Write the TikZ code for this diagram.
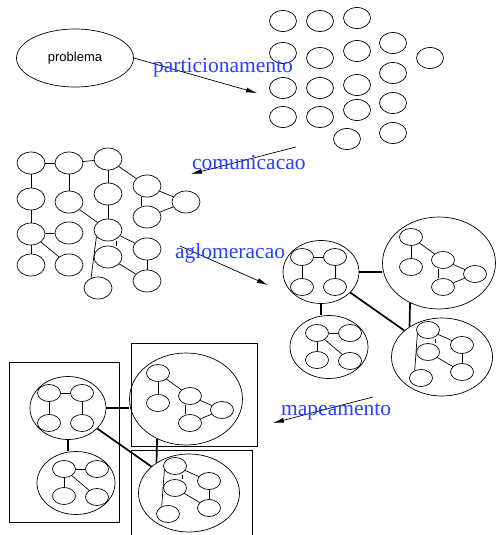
\documentclass[tikz,border=0pt]{standalone}
\usepackage{fontspec}
\setmainfont{Liberation Serif}
\newfontfamily\helvfont{Liberation Sans}
\usetikzlibrary{shapes.geometric,arrows.meta}

\definecolor{azulrotulo}{rgb}{0.15,0.25,1}

\tikzset{
  tarefa/.style={ellipse,draw,line width=0.7pt,inner sep=0pt,minimum width=27pt,minimum height=21pt},
  vert/.style={tarefa,minimum width=28pt,minimum height=22pt},
  sub/.style={tarefa,minimum width=23pt,minimum height=17pt},
  grupo/.style={ellipse,draw,line width=0.7pt,inner sep=0pt},
  aresta/.style={line width=0.7pt},
  elo/.style={line width=1.7pt},
  seta/.style={line width=0.7pt,-{Latex[length=11pt,width=5pt]}},
  etapa/.style={text=azulrotulo,font=\fontsize{21.5}{24}\selectfont,anchor=base west,inner sep=0pt}
}

% four clusters joined by heavy links
\newcommand{\aglomerado}{%
  \node[grupo,minimum width=76pt,minimum height=63pt] (A) at (321,272) {};
  \node[sub] (a1) at (302,257) {};
  \node[sub] (a2) at (335,257) {};
  \node[sub] (a3) at (302,287) {};
  \node[sub] (a4) at (335,287) {};
  \draw[aresta] (a1) -- (a2);
  \draw[aresta] (a1) -- (a3);
  \draw[aresta] (a2) -- (a4);
  \node[grupo,minimum width=113pt,minimum height=92pt] (B) at (439,263) {};
  \node[sub] (b1) at (411,237) {};
  \node[sub] (b2) at (411,267) {};
  \node[sub] (b3) at (443,260) {};
  \node[sub] (b4) at (475,274) {};
  \node[sub] (b5) at (443,287) {};
  \draw[aresta] (b1) -- (b2);
  \draw[aresta] (b1) -- (b3);
  \draw[aresta] (b3) -- (b4);
  \draw[aresta] ([xshift=-5pt]b3.south) -- ([xshift=-5pt]b5.north);
  \draw[aresta] (b5) -- (b4);
  \node[grupo,minimum width=78pt,minimum height=63pt] (C) at (329,347) {};
  \node[sub] (c1) at (317,333) {};
  \node[sub] (c2) at (350,333) {};
  \node[sub] (c3) at (317,360) {};
  \node[sub] (c4) at (350,361) {};
  \draw[aresta] (c1) -- (c2);
  \draw[aresta] (c1) -- (c3);
  \draw[aresta] (c1) -- (c4);
  \node[grupo,minimum width=101pt,minimum height=78pt] (D) at (442,357) {};
  \node[sub] (d1) at (428,330) {};
  \node[sub] (d2) at (428,352) {};
  \node[sub] (d3) at (462,345) {};
  \node[sub] (d4) at (462,372) {};
  \node[sub] (d5) at (421,378) {};
  \draw[aresta] (d1) -- (d3);
  \draw[aresta] ([xshift=7pt]d1.south) -- ([xshift=7pt]d2.north);
  \draw[aresta] (d3) -- (d4);
  \draw[aresta] (d2) -- (d4);
  \draw[aresta] (d1.200) -- (d5.130);
  % links between clusters
  \draw[elo] (A.east) -- (A.east -| B.west);
  \draw[elo] (A.south) -- (A.south |- C.north);
  \draw[elo] (A) -- (D);
  \draw[elo] (B.234) -- (D.137);
}

\begin{document}
\begin{tikzpicture}[x=1pt,y=-1pt]
    \useasboundingbox (0,0) rectangle (496,535);

    % Problem
    \node[ellipse,draw,line width=0.7pt,inner sep=0pt,minimum width=117pt,minimum height=58pt,
          font=\helvfont\fontsize{13}{15}\selectfont] (prob) at (75,58) {problema};

    % Tasks
    \foreach \x/\y [count=\i] in {283/21,320/21,357/18,283/53,320/58,357/51,393/43,430/58,
        283/88,320/88,357/85,393/73,283/117,320/117,357/110,393/103,347/139,393/133}
      \node[tarefa] (t\i) at (\x,\y) {};

    % Task graph
    \foreach \x/\y [count=\i] in {31/163,69/163,108/159,31/199,69/202,108/194,147/186,186/202,
        147/217,31/234,69/233,108/230,147/249,31/265,69/265,108/257,147/281,98/288}
      \node[vert] (g\i) at (\x,\y) {};
    \foreach \a/\b in {1/2,2/3,1/4,4/10,10/14,10/11,10/15,2/5,5/12,3/6,6/12,3/7,7/8,9/8,
        12/13,13/17,16/17}
      \draw[aresta] (g\a) -- (g\b);
    \draw[aresta] ([xshift=-6pt]g7.south) -- ([xshift=-6pt]g9.north);
    \draw[aresta] ([xshift=8pt]g12.south) -- ([xshift=8pt]g16.north);
    \draw[aresta] (g12.210) -- (g18.125);

    % Agglomeration
    \begin{scope}[name prefix=ag-]
        \aglomerado
    \end{scope}

    % Mapping
    \begin{scope}[shift={(-253,136)},name prefix=mp-]
        \aglomerado
    \end{scope}
    \draw[aresta] (9,362) rectangle (119,522);
    \draw[aresta] (131,343) rectangle (257,446);
    \draw[aresta] (131,450) rectangle (252,540);

    % Steps
    \coordinate (s1) at (257,93);
    \draw[seta] (prob.east) -- (s1);
    \node[etapa] (part) at (153,72) {particionamento};

    \coordinate (s2a) at (296,147);
    \coordinate (s2b) at (191,174);
    \draw[seta] (s2a) -- (s2b);
    \node[etapa] (comu) at (192,169) {comunicacao};

    \coordinate (s3a) at (180,246);
    \coordinate (s3b) at (268,285);
    \draw[seta] (s3a) -- (s3b);
    \node[etapa] (aglo) at (175,258) {aglomeracao};

    \coordinate (s4a) at (373,397);
    \coordinate (s4b) at (273,423);
    \draw[seta] (s4a) -- (s4b);
    \node[etapa] (mape) at (281,415) {mapeamento};
\end{tikzpicture}
\end{document}
